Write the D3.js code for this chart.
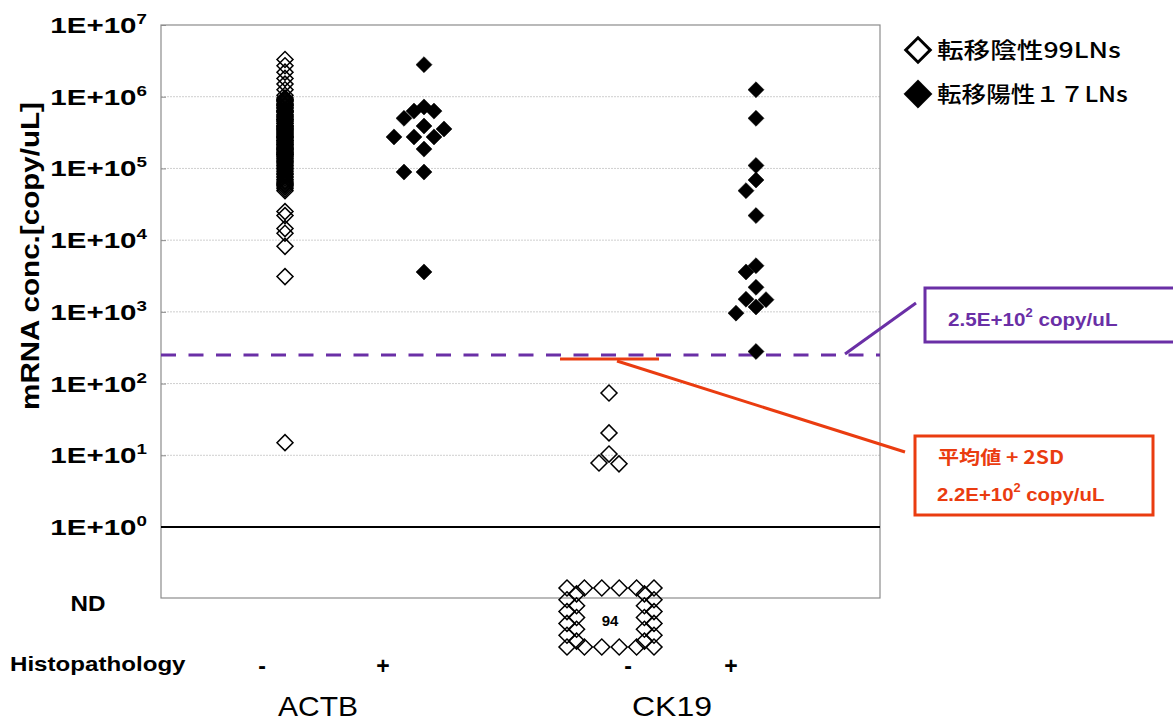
<!DOCTYPE html>
<html>
<head>
<meta charset="utf-8">
<script src="https://cdn.jsdelivr.net/npm/d3@7"></script>
<style>
body { margin: 0; background: #fff; }
text { font-family: "Liberation Sans", Arial, sans-serif; }
</style>
</head>
<body>
<script>
// values, copy/uL
const actbNeg = [
  3.3e6, 2.7e6, 2.2e6, 1.8e6, 1.5e6, 1.25e6, 1.05e6,
  9.6e5, 9.2e5, 9.0e5, 8.8e5, 8.5e5, 8.1e5, 7.8e5, 7.6e5, 7.4e5, 7.1e5, 6.8e5, 6.5e5,
  6.3e5, 6.2e5, 6.0e5, 5.7e5, 5.5e5, 5.3e5, 5.1e5, 4.9e5, 4.8e5, 4.7e5, 4.5e5, 4.3e5,
  4.2e5, 4.0e5, 3.9e5, 3.8e5, 3.7e5, 3.6e5, 3.5e5, 3.4e5, 3.3e5, 3.2e5, 3.1e5, 3.0e5,
  2.9e5, 2.8e5, 2.75e5, 2.7e5, 2.6e5, 2.5e5, 2.45e5, 2.4e5, 2.3e5, 2.2e5, 2.15e5, 2.1e5,
  2.0e5, 1.95e5, 1.9e5, 1.85e5, 1.8e5, 1.75e5, 1.7e5, 1.65e5, 1.6e5, 1.58e5, 1.55e5,
  1.5e5, 1.45e5, 1.4e5, 1.35e5, 1.3e5, 1.25e5, 1.2e5, 1.15e5, 1.1e5, 1.05e5, 1.0e5,
  9.5e4, 9.0e4, 8.6e4, 8.2e4, 7.8e4, 7.4e4, 7.0e4, 6.7e4, 6.4e4, 6.1e4, 6.0e4, 5.8e4,
  5.5e4, 5.2e4, 4.9e4,
  2.5e4, 2.2e4, 1.45e4, 1.25e4, 8.2e3, 3.1e3, 15
];
const actbPos = [2.8e6, 7.2e5, 6.3e5, 6.3e5, 5.0e5, 3.9e5, 3.55e5, 2.75e5, 2.75e5, 2.75e5, 1.86e5, 8.9e4, 8.9e4, 3.6e3];
const ck19Neg = [74, 20.5, 10.4, 7.8, 7.6];
const ck19Pos = [1.25e6, 5.0e5, 1.1e5, 6.9e4, 4.9e4, 2.2e4, 4.4e3, 3.6e3, 2.2e3, 1.5e3, 1.48e3, 1.17e3, 9.6e2, 2.8e2];
const ck19NegND = 94;

const groups = ["ACTB-", "ACTB+", "CK19-", "CK19+"];
const histoLabels = ["-", "+", "-", "+"];
const genes = ["ACTB", "CK19"];
const tickExps = [0, 1, 2, 3, 4, 5, 6, 7];
const meanPlus2SD = 220;
const cutoff = 250;
const legendLabels = ["転移陰性99LNs", "転移陽性１７LNs"];

const W = 1173, H = 722;
const plot = { left: 161, right: 880, top: 25, bottom: 598 };
const purple = "#6a2fa6", red = "#ea3c10";

const svg = d3.select("body").append("svg").attr("width", W).attr("height", H);

const y = d3.scaleLog().domain([1, 1e7]).range([527, plot.top]);
const x = d3.scaleOrdinal().domain(groups).range([285, 424, 609, 756]);
const xHisto = d3.scaleOrdinal().domain(groups).range([262, 383, 628, 731]);
const xGene = d3.scaleOrdinal().domain(genes).range([318, 672]);

// text that gets stretched to a width
function label(parent, px, py, build, opt) {
  const g = parent.append("g").attr("transform", `translate(${px},${py})`);
  const t = g.append("text")
    .attr("text-anchor", opt.anchor || "start")
    .attr("font-size", opt.size)
    .attr("font-weight", opt.weight || "bold")
    .attr("fill", opt.color || "#000");
  if (opt.family) t.style("font-family", opt.family);
  build(t);
  if (opt.rotate) g.attr("transform", `translate(${px},${py}) rotate(${opt.rotate})`);
  if (opt.width) {
    const w = t.node().getBBox().width;
    t.attr("transform", `scale(${opt.width / w},1)`);
  }
  return g;
}

// grid
svg.append("g")
  .selectAll("line")
  .data(tickExps.filter(e => e > 0 && e < 7))
  .join("line")
  .attr("x1", plot.left).attr("x2", plot.right)
  .attr("y1", e => y(10 ** e)).attr("y2", e => y(10 ** e))
  .attr("stroke", "#cfcfcf")
  .attr("stroke-dasharray", "2,1");

// frame
svg.append("rect")
  .attr("x", plot.left).attr("y", plot.top)
  .attr("width", plot.right - plot.left).attr("height", plot.bottom - plot.top)
  .attr("fill", "none").attr("stroke", "#8c8c8c").attr("stroke-width", 1.2);

// ticks
svg.append("g")
  .attr("transform", `translate(${plot.left},0)`)
  .call(d3.axisRight(y).tickValues(tickExps.map(e => 10 ** e)).tickSize(5).tickFormat(""))
  .call(g => g.select(".domain").remove())
  .call(g => g.selectAll("line").attr("stroke", "#8c8c8c"));

// 1E+0 line
svg.append("line")
  .attr("x1", plot.left).attr("x2", plot.right)
  .attr("y1", y(1)).attr("y2", y(1))
  .attr("stroke", "#000").attr("stroke-width", 2);

// tick labels
tickExps.forEach(e => {
  label(svg, 147, y(10 ** e) + 8, t => {
    t.append("tspan").text("1E+10");
    t.append("tspan").attr("font-size", 14).attr("dy", -9).text(e);
  }, { anchor: "end", size: 22, width: 97 });
});
label(svg, 88, 611, t => t.text("ND"), { anchor: "middle", size: 22, width: 35 });

label(svg, 39, 256, t => t.text("mRNA conc.[copy/uL]"), { anchor: "middle", size: 25, width: 308, rotate: -90 });

// cut-off lines
svg.append("line")
  .attr("x1", plot.left).attr("x2", plot.right)
  .attr("y1", y(cutoff)).attr("y2", y(cutoff))
  .attr("stroke", purple).attr("stroke-width", 3)
  .attr("stroke-dasharray", "15,12.5");

svg.append("line")
  .attr("x1", x("CK19-") - 49).attr("x2", x("CK19-") + 50)
  .attr("y1", y(meanPlus2SD)).attr("y2", y(meanPlus2SD))
  .attr("stroke", red).attr("stroke-width", 3);

// points: simple dodge so diamonds do not sit on each other
function dodge(values, step, minDist, spread) {
  const placed = [];
  return values.map(v => ({ v, py: y(v) }))
    .sort((a, b) => a.py - b.py)
    .map(d => {
      if (!spread) { d.off = 0; return d; }
      for (let k = 0; k < 30; k++) {
        const off = k === 0 ? 0 : (k % 2 ? -Math.ceil(k / 2) : Math.ceil(k / 2)) * step;
        if (placed.every(p => Math.abs(p.off - off) + Math.abs(p.py - d.py) >= minDist)) {
          d.off = off; placed.push(d); return d;
        }
      }
      d.off = 0; return d;
    });
}

const diamond = d3.symbol(d3.symbolSquare, 128);
const series = [
  { key: "ACTB-", values: actbNeg, filled: false, spread: false },
  { key: "ACTB+", values: actbPos, filled: true, spread: true },
  { key: "CK19-", values: ck19Neg, filled: false, spread: true },
  { key: "CK19+", values: ck19Pos, filled: true, spread: true }
];

series.forEach(s => {
  svg.append("g")
    .selectAll("path")
    .data(dodge(s.values, 10, 14, s.spread))
    .join("path")
    .attr("d", diamond)
    .attr("transform", d => `translate(${x(s.key) + d.off},${d.py}) rotate(45)`)
    .attr("fill", s.filled ? "#000" : "none")
    .attr("stroke", "#000")
    .attr("stroke-width", s.filled ? 0.5 : 1.5);
});

// ND ring for CK19 negative
const ndX = d3.scaleLinear().domain([0, 5]).range([x("CK19-") - 42, x("CK19-") + 45]);
const ndY = d3.scaleLinear().domain([0, 5]).range([588, 647]);
const ndCells = [];
d3.range(6).forEach(i => { ndCells.push([i, 0]); ndCells.push([i, 5]); });
d3.range(1, 5).forEach(j => { ndCells.push([0, j]); ndCells.push([5, j]); });
d3.range(0.5, 5, 1).forEach(j => { ndCells.push([0.55, j]); ndCells.push([4.45, j]); });
svg.append("g")
  .selectAll("path")
  .data(ndCells)
  .join("path")
  .attr("d", diamond)
  .attr("transform", d => `translate(${ndX(d[0])},${ndY(d[1])}) rotate(45)`)
  .attr("fill", "none").attr("stroke", "#000").attr("stroke-width", 1.5);
label(svg, x("CK19-") + 1, 626, t => t.text(ck19NegND), { anchor: "middle", size: 15 });

// bottom labels
label(svg, 10, 671, t => t.text("Histopathology"), { size: 21, width: 176 });
groups.forEach(g => label(svg, xHisto(g), 674, t => t.text(histoLabels[groups.indexOf(g)]), { anchor: "middle", size: 23 }));
genes.forEach(g => label(svg, xGene(g), 716, t => t.text(g), { anchor: "middle", size: 27, weight: "normal", width: 80 }));

// legend
const legend = svg.append("g");
legendLabels.forEach((txt, i) => {
  const cy = 50 + i * 44;
  legend.append("path")
    .attr("d", d3.symbol(d3.symbolSquare, i ? 400 : 300))
    .attr("transform", `translate(918,${cy}) rotate(45)`)
    .attr("fill", i ? "#000" : "#fff")
    .attr("stroke", "#000").attr("stroke-width", i ? 0.5 : 3);
  label(legend, 937, cy + 8, t => t.text(txt),
    { size: 22, weight: "500", family: "'Noto Sans CJK JP', sans-serif", width: i ? 191 : 184 });
});

// annotation boxes
svg.append("line")
  .attr("x1", 845).attr("y1", y(cutoff) - 1).attr("x2", 916).attr("y2", 303)
  .attr("stroke", purple).attr("stroke-width", 3);
svg.append("rect")
  .attr("x", 925).attr("y", 288).attr("width", 260).attr("height", 54)
  .attr("fill", "#fff").attr("stroke", purple).attr("stroke-width", 3);
label(svg, 948, 326, t => {
  t.append("tspan").text("2.5E+10");
  t.append("tspan").attr("font-size", 12).attr("dy", -9).text("2");
  t.append("tspan").attr("dy", 9).text(" copy/uL");
}, { size: 19, color: purple, width: 170 });

svg.append("line")
  .attr("x1", x("CK19-") + 8).attr("y1", y(meanPlus2SD) + 2).attr("x2", 905).attr("y2", 452)
  .attr("stroke", red).attr("stroke-width", 3);
svg.append("rect")
  .attr("x", 915).attr("y", 436).attr("width", 238).attr("height", 79)
  .attr("fill", "#fff").attr("stroke", red).attr("stroke-width", 3);
label(svg, 938, 464, t => t.text("平均値 + 2SD"),
  { size: 18, color: red, family: "'Noto Sans CJK JP', 'Liberation Sans', sans-serif", width: 126 });
label(svg, 937, 501, t => {
  t.append("tspan").text("2.2E+10");
  t.append("tspan").attr("font-size", 12).attr("dy", -9).text("2");
  t.append("tspan").attr("dy", 9).text(" copy/uL");
}, { size: 19, color: red, width: 168 });
</script>
</body>
</html>
